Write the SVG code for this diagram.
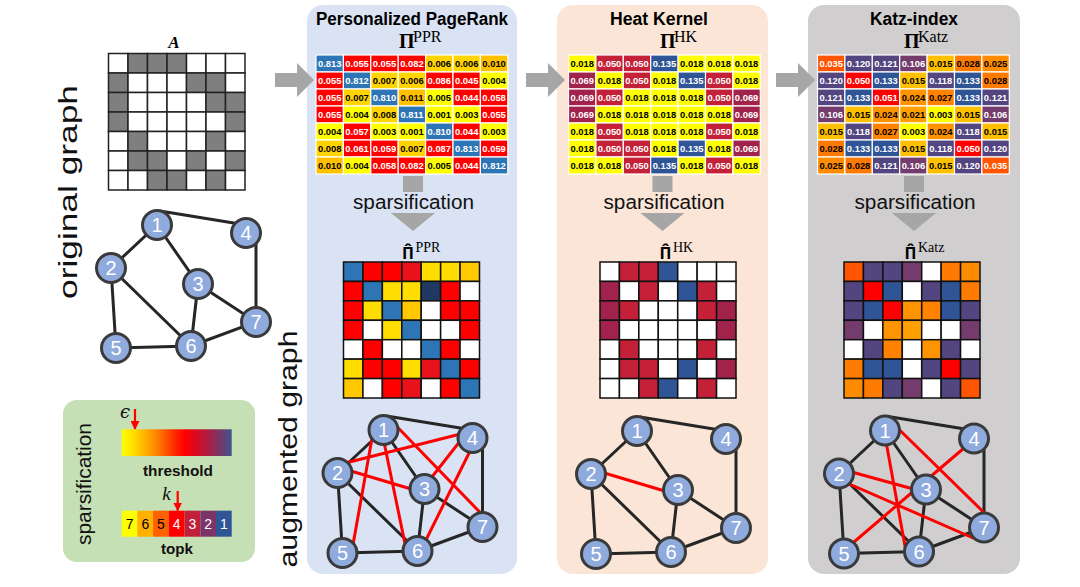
<svg xmlns="http://www.w3.org/2000/svg" xmlns:xlink="http://www.w3.org/1999/xlink" width="1080" height="587" viewBox="0 0 1080 587">
<style>
.ttl{font-family:"Liberation Sans",Arial,sans-serif;font-weight:bold;font-size:17.5px;fill:#000;text-anchor:middle}
.pi{font-family:"Liberation Serif",serif;font-weight:bold;font-size:20px;fill:#000}
.pih{font-family:"Open Sans",sans-serif;font-weight:bold;font-size:16px;fill:#000;text-anchor:middle}
.sup{font-family:"Liberation Serif",serif;font-size:16px;fill:#000}
.suph{font-family:"Liberation Serif",serif;font-size:14px;font-weight:normal;fill:#000}
.lab{font-family:"Liberation Sans",Arial,sans-serif;font-size:20px;fill:#111;text-anchor:middle}
.big{font-family:"Liberation Sans",Arial,sans-serif;font-size:26px;fill:#111;text-anchor:middle}
.n{font-family:"Liberation Sans",Arial,sans-serif;font-weight:bold;font-size:9.4px;text-anchor:middle}
.w{fill:#fff}.k{fill:#000}
.b{fill:#2E75B6}.r{fill:#FF0000}.y{fill:#FFFF00}.d{fill:#FFD400}.g{fill:#FFC000}
.hr{fill:#C42038}.hm{fill:#A1234B}.hb{fill:#2F5597}
.ko{fill:#FF5500}.kp{fill:#524580}.km{fill:#733C6C}.kb{fill:#2F5597}.kr{fill:#FF0000}
.o1{fill:#FF7A00}.o2{fill:#FF8200}.o3{fill:#FF8C00}.o4{fill:#FF9400}.o5{fill:#FFA000}
.r2{fill:#E8121C}.nv{fill:#203864}.sy{fill:#FFDD00}.sg{fill:#FFC800}.W{fill:#fff}.gr{fill:#7F7F7F}
.node circle{fill:#8FAADC;stroke:#3A3A3A;stroke-width:3}
.node text{font-family:"Liberation Sans",Arial,sans-serif;font-size:20px;fill:#fff;text-anchor:middle}
.e{stroke:#262626;stroke-width:3;fill:none}
.er{stroke:#FF0000;stroke-width:3;fill:none}
.ga{fill:#A6A6A6}
.lg{font-family:"Liberation Sans",Arial,sans-serif;font-weight:bold;font-size:15.4px;fill:#111;text-anchor:middle}
.tk{font-family:"Liberation Sans",Arial,sans-serif;font-size:14px;text-anchor:middle}
</style>
<defs>
<rect id="dc" width="27.4" height="17" stroke="#fff" stroke-width="1.2"/>
<rect id="sc" width="19.43" height="19.43" stroke="#111" stroke-width="1.5"/>
<rect id="ac" width="19.5" height="19.5" stroke="#222" stroke-width="1.5"/>
<linearGradient id="th" x1="0" y1="0" x2="1" y2="0">
<stop offset="0" stop-color="#FFFF00"/><stop offset="0.1" stop-color="#FFE000"/><stop offset="0.3" stop-color="#FF8C00"/><stop offset="0.5" stop-color="#FF2000"/><stop offset="0.58" stop-color="#FF0000"/><stop offset="0.72" stop-color="#C8102E"/><stop offset="0.86" stop-color="#8A2E5A"/><stop offset="1" stop-color="#3F5490"/>
</linearGradient>
<marker id="rh" markerUnits="userSpaceOnUse" markerWidth="9" markerHeight="9" refX="8" refY="4.5" orient="auto"><path d="M0,0 L9,4.5 L0,9 Z" fill="#FF0000"/></marker>
</defs>

<!-- panels -->
<g id="panels">
<rect id="panel-ppr" x="307" y="5" width="210" height="569" rx="16" fill="#DAE3F3"/>
<rect id="panel-hk" x="557" y="5" width="211" height="569" rx="16" fill="#FBE5D6"/>
<rect id="panel-katz" x="808" y="5" width="212" height="569" rx="16" fill="#D0CECE"/>
<rect id="panel-legend" x="63" y="400" width="192" height="162" rx="14" fill="#C5E0B4"/>
</g>

<!-- connectors -->
<g id="connectors">
<polygon class="ga" points="275,73 297,73 297,63 314,80 297,97 297,87 275,87"/>
<polygon class="ga" points="526,73 548,73 548,63 565,80 548,97 548,87 526,87"/>
<polygon class="ga" points="776,73 798,73 798,63 815,80 798,97 798,87 776,87"/>
<path class="ga" d="M403,176 H423 V192 H403 Z M391,213 H435 L413,231 Z"/>
<path class="ga" d="M652.5,176 H672.5 V192 H652.5 Z M640.5,213 H684.5 L662.5,231 Z"/>
<path class="ga" d="M904,176 H924 V192 H904 Z M892,213 H936 L914,231 Z"/>
</g>

<!-- titles -->
<text class="ttl" x="412" y="25" textLength="192" lengthAdjust="spacingAndGlyphs">Personalized PageRank</text>
<text class="ttl" x="659" y="25" textLength="98" lengthAdjust="spacingAndGlyphs">Heat Kernel</text>
<text class="ttl" x="914" y="25" textLength="88" lengthAdjust="spacingAndGlyphs">Katz-index</text>

<text class="pi" x="399" y="48">Π</text><text class="sup" x="413" y="42">PPR</text>
<text class="pi" x="660" y="48">Π</text><text class="sup" x="674" y="42">HK</text>
<text class="pi" x="904" y="48">Π</text><text class="sup" x="918" y="42">Katz</text>

<text class="pih" x="408" y="259">Π̂</text><text class="suph" x="415.5" y="252">PPR</text>
<text class="pih" x="665.5" y="259">Π̂</text><text class="suph" x="673" y="252">HK</text>
<text class="pih" x="910.5" y="259">Π̂</text><text class="suph" x="918" y="252">Katz</text>

<text class="lab" x="413.5" y="209" textLength="121" lengthAdjust="spacingAndGlyphs">sparsification</text>
<text class="lab" x="664" y="209" textLength="121" lengthAdjust="spacingAndGlyphs">sparsification</text>
<text class="lab" x="915" y="209" textLength="121" lengthAdjust="spacingAndGlyphs">sparsification</text>

<text class="big" transform="translate(77,192) rotate(-90)" textLength="214" lengthAdjust="spacingAndGlyphs">original graph</text>
<text class="big" transform="translate(297,449) rotate(-90)" textLength="237" lengthAdjust="spacingAndGlyphs">augmented graph</text>

<!-- adjacency matrix A -->
<g id="matrix-A">
<text x="174" y="47.5" font-family="Liberation Serif,serif" font-weight="bold" font-style="italic" font-size="17" text-anchor="middle">A</text>
<g transform="translate(108.5,53.5)">
<use href="#ac" x="0" y="0" class="W"/><use href="#ac" x="19.5" y="0" class="gr"/><use href="#ac" x="39" y="0" class="gr"/><use href="#ac" x="58.5" y="0" class="gr"/><use href="#ac" x="78" y="0" class="W"/><use href="#ac" x="97.5" y="0" class="W"/><use href="#ac" x="117" y="0" class="W"/>
<use href="#ac" x="0" y="19.5" class="gr"/><use href="#ac" x="19.5" y="19.5" class="W"/><use href="#ac" x="39" y="19.5" class="W"/><use href="#ac" x="58.5" y="19.5" class="W"/><use href="#ac" x="78" y="19.5" class="gr"/><use href="#ac" x="97.5" y="19.5" class="gr"/><use href="#ac" x="117" y="19.5" class="W"/>
<use href="#ac" x="0" y="39" class="gr"/><use href="#ac" x="19.5" y="39" class="W"/><use href="#ac" x="39" y="39" class="W"/><use href="#ac" x="58.5" y="39" class="W"/><use href="#ac" x="78" y="39" class="W"/><use href="#ac" x="97.5" y="39" class="gr"/><use href="#ac" x="117" y="39" class="gr"/>
<use href="#ac" x="0" y="58.5" class="gr"/><use href="#ac" x="19.5" y="58.5" class="W"/><use href="#ac" x="39" y="58.5" class="W"/><use href="#ac" x="58.5" y="58.5" class="W"/><use href="#ac" x="78" y="58.5" class="W"/><use href="#ac" x="97.5" y="58.5" class="W"/><use href="#ac" x="117" y="58.5" class="gr"/>
<use href="#ac" x="0" y="78" class="W"/><use href="#ac" x="19.5" y="78" class="gr"/><use href="#ac" x="39" y="78" class="W"/><use href="#ac" x="58.5" y="78" class="W"/><use href="#ac" x="78" y="78" class="W"/><use href="#ac" x="97.5" y="78" class="gr"/><use href="#ac" x="117" y="78" class="W"/>
<use href="#ac" x="0" y="97.5" class="W"/><use href="#ac" x="19.5" y="97.5" class="gr"/><use href="#ac" x="39" y="97.5" class="gr"/><use href="#ac" x="58.5" y="97.5" class="W"/><use href="#ac" x="78" y="97.5" class="gr"/><use href="#ac" x="97.5" y="97.5" class="W"/><use href="#ac" x="117" y="97.5" class="gr"/>
<use href="#ac" x="0" y="117" class="W"/><use href="#ac" x="19.5" y="117" class="W"/><use href="#ac" x="39" y="117" class="gr"/><use href="#ac" x="58.5" y="117" class="gr"/><use href="#ac" x="78" y="117" class="W"/><use href="#ac" x="97.5" y="117" class="gr"/><use href="#ac" x="117" y="117" class="W"/>
</g>
</g>

<!-- dense PPR -->
<g id="matrix-ppr" transform="translate(316,55)">
<use href="#dc" x="0" y="0" class="b"/><use href="#dc" x="27.4" y="0" class="r"/><use href="#dc" x="54.8" y="0" class="r"/><use href="#dc" x="82.2" y="0" class="r"/><use href="#dc" x="109.6" y="0" class="d"/><use href="#dc" x="137" y="0" class="d"/><use href="#dc" x="164.4" y="0" class="g"/>
<use href="#dc" x="0" y="17" class="r"/><use href="#dc" x="27.4" y="17" class="b"/><use href="#dc" x="54.8" y="17" class="d"/><use href="#dc" x="82.2" y="17" class="d"/><use href="#dc" x="109.6" y="17" class="r"/><use href="#dc" x="137" y="17" class="r"/><use href="#dc" x="164.4" y="17" class="y"/>
<use href="#dc" x="0" y="34" class="r"/><use href="#dc" x="27.4" y="34" class="d"/><use href="#dc" x="54.8" y="34" class="b"/><use href="#dc" x="82.2" y="34" class="g"/><use href="#dc" x="109.6" y="34" class="y"/><use href="#dc" x="137" y="34" class="r"/><use href="#dc" x="164.4" y="34" class="r"/>
<use href="#dc" x="0" y="51" class="r"/><use href="#dc" x="27.4" y="51" class="y"/><use href="#dc" x="54.8" y="51" class="d"/><use href="#dc" x="82.2" y="51" class="b"/><use href="#dc" x="109.6" y="51" class="y"/><use href="#dc" x="137" y="51" class="y"/><use href="#dc" x="164.4" y="51" class="r"/>
<use href="#dc" x="0" y="68" class="y"/><use href="#dc" x="27.4" y="68" class="r"/><use href="#dc" x="54.8" y="68" class="y"/><use href="#dc" x="82.2" y="68" class="y"/><use href="#dc" x="109.6" y="68" class="b"/><use href="#dc" x="137" y="68" class="r"/><use href="#dc" x="164.4" y="68" class="y"/>
<use href="#dc" x="0" y="85" class="d"/><use href="#dc" x="27.4" y="85" class="r"/><use href="#dc" x="54.8" y="85" class="r"/><use href="#dc" x="82.2" y="85" class="d"/><use href="#dc" x="109.6" y="85" class="r"/><use href="#dc" x="137" y="85" class="b"/><use href="#dc" x="164.4" y="85" class="r"/>
<use href="#dc" x="0" y="102" class="g"/><use href="#dc" x="27.4" y="102" class="y"/><use href="#dc" x="54.8" y="102" class="r"/><use href="#dc" x="82.2" y="102" class="r"/><use href="#dc" x="109.6" y="102" class="y"/><use href="#dc" x="137" y="102" class="r"/><use href="#dc" x="164.4" y="102" class="b"/>
<g class="n">
<text x="13.7" y="12.3" class="w">0.813</text><text x="41.1" y="12.3" class="w">0.055</text><text x="68.5" y="12.3" class="w">0.055</text><text x="95.9" y="12.3" class="w">0.082</text><text x="123.3" y="12.3" class="k">0.006</text><text x="150.7" y="12.3" class="k">0.006</text><text x="178.1" y="12.3" class="k">0.010</text>
<text x="13.7" y="29.3" class="w">0.055</text><text x="41.1" y="29.3" class="w">0.812</text><text x="68.5" y="29.3" class="k">0.007</text><text x="95.9" y="29.3" class="k">0.006</text><text x="123.3" y="29.3" class="w">0.086</text><text x="150.7" y="29.3" class="w">0.045</text><text x="178.1" y="29.3" class="k">0.004</text>
<text x="13.7" y="46.3" class="w">0.055</text><text x="41.1" y="46.3" class="k">0.007</text><text x="68.5" y="46.3" class="w">0.810</text><text x="95.9" y="46.3" class="k">0.011</text><text x="123.3" y="46.3" class="k">0.005</text><text x="150.7" y="46.3" class="w">0.044</text><text x="178.1" y="46.3" class="w">0.058</text>
<text x="13.7" y="63.3" class="w">0.055</text><text x="41.1" y="63.3" class="k">0.004</text><text x="68.5" y="63.3" class="k">0.008</text><text x="95.9" y="63.3" class="w">0.811</text><text x="123.3" y="63.3" class="k">0.001</text><text x="150.7" y="63.3" class="k">0.003</text><text x="178.1" y="63.3" class="w">0.055</text>
<text x="13.7" y="80.3" class="k">0.004</text><text x="41.1" y="80.3" class="w">0.057</text><text x="68.5" y="80.3" class="k">0.003</text><text x="95.9" y="80.3" class="k">0.001</text><text x="123.3" y="80.3" class="w">0.810</text><text x="150.7" y="80.3" class="w">0.044</text><text x="178.1" y="80.3" class="k">0.003</text>
<text x="13.7" y="97.3" class="k">0.008</text><text x="41.1" y="97.3" class="w">0.061</text><text x="68.5" y="97.3" class="w">0.059</text><text x="95.9" y="97.3" class="k">0.007</text><text x="123.3" y="97.3" class="w">0.087</text><text x="150.7" y="97.3" class="w">0.813</text><text x="178.1" y="97.3" class="w">0.059</text>
<text x="13.7" y="114.3" class="k">0.010</text><text x="41.1" y="114.3" class="k">0.004</text><text x="68.5" y="114.3" class="w">0.058</text><text x="95.9" y="114.3" class="w">0.082</text><text x="123.3" y="114.3" class="k">0.005</text><text x="150.7" y="114.3" class="w">0.044</text><text x="178.1" y="114.3" class="w">0.812</text>
</g>
</g>

<!-- dense HK -->
<g id="matrix-hk" transform="translate(568.5,55)">
<use href="#dc" x="0" y="0" class="y"/><use href="#dc" x="27.4" y="0" class="hr"/><use href="#dc" x="54.8" y="0" class="hr"/><use href="#dc" x="82.2" y="0" class="hb"/><use href="#dc" x="109.6" y="0" class="y"/><use href="#dc" x="137" y="0" class="y"/><use href="#dc" x="164.4" y="0" class="y"/>
<use href="#dc" x="0" y="17" class="hm"/><use href="#dc" x="27.4" y="17" class="y"/><use href="#dc" x="54.8" y="17" class="hr"/><use href="#dc" x="82.2" y="17" class="y"/><use href="#dc" x="109.6" y="17" class="hb"/><use href="#dc" x="137" y="17" class="hr"/><use href="#dc" x="164.4" y="17" class="y"/>
<use href="#dc" x="0" y="34" class="hm"/><use href="#dc" x="27.4" y="34" class="hr"/><use href="#dc" x="54.8" y="34" class="y"/><use href="#dc" x="82.2" y="34" class="y"/><use href="#dc" x="109.6" y="34" class="y"/><use href="#dc" x="137" y="34" class="hr"/><use href="#dc" x="164.4" y="34" class="hm"/>
<use href="#dc" x="0" y="51" class="hm"/><use href="#dc" x="27.4" y="51" class="y"/><use href="#dc" x="54.8" y="51" class="y"/><use href="#dc" x="82.2" y="51" class="y"/><use href="#dc" x="109.6" y="51" class="y"/><use href="#dc" x="137" y="51" class="y"/><use href="#dc" x="164.4" y="51" class="hm"/>
<use href="#dc" x="0" y="68" class="y"/><use href="#dc" x="27.4" y="68" class="hr"/><use href="#dc" x="54.8" y="68" class="y"/><use href="#dc" x="82.2" y="68" class="y"/><use href="#dc" x="109.6" y="68" class="y"/><use href="#dc" x="137" y="68" class="hr"/><use href="#dc" x="164.4" y="68" class="y"/>
<use href="#dc" x="0" y="85" class="y"/><use href="#dc" x="27.4" y="85" class="hr"/><use href="#dc" x="54.8" y="85" class="hr"/><use href="#dc" x="82.2" y="85" class="y"/><use href="#dc" x="109.6" y="85" class="hb"/><use href="#dc" x="137" y="85" class="y"/><use href="#dc" x="164.4" y="85" class="hm"/>
<use href="#dc" x="0" y="102" class="y"/><use href="#dc" x="27.4" y="102" class="y"/><use href="#dc" x="54.8" y="102" class="hr"/><use href="#dc" x="82.2" y="102" class="hb"/><use href="#dc" x="109.6" y="102" class="y"/><use href="#dc" x="137" y="102" class="hr"/><use href="#dc" x="164.4" y="102" class="y"/>
<g class="n">
<text x="13.7" y="12.3" class="k">0.018</text><text x="41.1" y="12.3" class="w">0.050</text><text x="68.5" y="12.3" class="w">0.050</text><text x="95.9" y="12.3" class="w">0.135</text><text x="123.3" y="12.3" class="k">0.018</text><text x="150.7" y="12.3" class="k">0.018</text><text x="178.1" y="12.3" class="k">0.018</text>
<text x="13.7" y="29.3" class="w">0.069</text><text x="41.1" y="29.3" class="k">0.018</text><text x="68.5" y="29.3" class="w">0.050</text><text x="95.9" y="29.3" class="k">0.018</text><text x="123.3" y="29.3" class="w">0.135</text><text x="150.7" y="29.3" class="w">0.050</text><text x="178.1" y="29.3" class="k">0.018</text>
<text x="13.7" y="46.3" class="w">0.069</text><text x="41.1" y="46.3" class="w">0.050</text><text x="68.5" y="46.3" class="k">0.018</text><text x="95.9" y="46.3" class="k">0.018</text><text x="123.3" y="46.3" class="k">0.018</text><text x="150.7" y="46.3" class="w">0.050</text><text x="178.1" y="46.3" class="w">0.069</text>
<text x="13.7" y="63.3" class="w">0.069</text><text x="41.1" y="63.3" class="k">0.018</text><text x="68.5" y="63.3" class="k">0.018</text><text x="95.9" y="63.3" class="k">0.018</text><text x="123.3" y="63.3" class="k">0.018</text><text x="150.7" y="63.3" class="k">0.018</text><text x="178.1" y="63.3" class="w">0.069</text>
<text x="13.7" y="80.3" class="k">0.018</text><text x="41.1" y="80.3" class="w">0.050</text><text x="68.5" y="80.3" class="k">0.018</text><text x="95.9" y="80.3" class="k">0.018</text><text x="123.3" y="80.3" class="k">0.018</text><text x="150.7" y="80.3" class="w">0.050</text><text x="178.1" y="80.3" class="k">0.018</text>
<text x="13.7" y="97.3" class="k">0.018</text><text x="41.1" y="97.3" class="w">0.050</text><text x="68.5" y="97.3" class="w">0.050</text><text x="95.9" y="97.3" class="k">0.018</text><text x="123.3" y="97.3" class="w">0.135</text><text x="150.7" y="97.3" class="k">0.018</text><text x="178.1" y="97.3" class="w">0.069</text>
<text x="13.7" y="114.3" class="k">0.018</text><text x="41.1" y="114.3" class="k">0.018</text><text x="68.5" y="114.3" class="w">0.050</text><text x="95.9" y="114.3" class="w">0.135</text><text x="123.3" y="114.3" class="k">0.018</text><text x="150.7" y="114.3" class="w">0.050</text><text x="178.1" y="114.3" class="k">0.018</text>
</g>
</g>

<!-- dense Katz -->
<g id="matrix-katz" transform="translate(817.5,55)">
<use href="#dc" x="0" y="0" class="ko"/><use href="#dc" x="27.4" y="0" class="kp"/><use href="#dc" x="54.8" y="0" class="kp"/><use href="#dc" x="82.2" y="0" class="km"/><use href="#dc" x="109.6" y="0" class="g"/><use href="#dc" x="137" y="0" class="o1"/><use href="#dc" x="164.4" y="0" class="o3"/>
<use href="#dc" x="0" y="17" class="kp"/><use href="#dc" x="27.4" y="17" class="kr"/><use href="#dc" x="54.8" y="17" class="kb"/><use href="#dc" x="82.2" y="17" class="g"/><use href="#dc" x="109.6" y="17" class="kp"/><use href="#dc" x="137" y="17" class="kb"/><use href="#dc" x="164.4" y="17" class="o1"/>
<use href="#dc" x="0" y="34" class="kp"/><use href="#dc" x="27.4" y="34" class="kb"/><use href="#dc" x="54.8" y="34" class="kr"/><use href="#dc" x="82.2" y="34" class="o4"/><use href="#dc" x="109.6" y="34" class="o2"/><use href="#dc" x="137" y="34" class="kb"/><use href="#dc" x="164.4" y="34" class="kp"/>
<use href="#dc" x="0" y="51" class="km"/><use href="#dc" x="27.4" y="51" class="g"/><use href="#dc" x="54.8" y="51" class="o4"/><use href="#dc" x="82.2" y="51" class="o5"/><use href="#dc" x="109.6" y="51" class="y"/><use href="#dc" x="137" y="51" class="g"/><use href="#dc" x="164.4" y="51" class="km"/>
<use href="#dc" x="0" y="68" class="g"/><use href="#dc" x="27.4" y="68" class="kp"/><use href="#dc" x="54.8" y="68" class="o2"/><use href="#dc" x="82.2" y="68" class="y"/><use href="#dc" x="109.6" y="68" class="o4"/><use href="#dc" x="137" y="68" class="kp"/><use href="#dc" x="164.4" y="68" class="g"/>
<use href="#dc" x="0" y="85" class="o1"/><use href="#dc" x="27.4" y="85" class="kb"/><use href="#dc" x="54.8" y="85" class="kb"/><use href="#dc" x="82.2" y="85" class="g"/><use href="#dc" x="109.6" y="85" class="kp"/><use href="#dc" x="137" y="85" class="kr"/><use href="#dc" x="164.4" y="85" class="kp"/>
<use href="#dc" x="0" y="102" class="o3"/><use href="#dc" x="27.4" y="102" class="o1"/><use href="#dc" x="54.8" y="102" class="kp"/><use href="#dc" x="82.2" y="102" class="km"/><use href="#dc" x="109.6" y="102" class="g"/><use href="#dc" x="137" y="102" class="kp"/><use href="#dc" x="164.4" y="102" class="ko"/>
<g class="n">
<text x="13.7" y="12.3" class="w">0.035</text><text x="41.1" y="12.3" class="w">0.120</text><text x="68.5" y="12.3" class="w">0.121</text><text x="95.9" y="12.3" class="w">0.106</text><text x="123.3" y="12.3" class="k">0.015</text><text x="150.7" y="12.3" class="k">0.028</text><text x="178.1" y="12.3" class="k">0.025</text>
<text x="13.7" y="29.3" class="w">0.120</text><text x="41.1" y="29.3" class="w">0.050</text><text x="68.5" y="29.3" class="w">0.133</text><text x="95.9" y="29.3" class="k">0.015</text><text x="123.3" y="29.3" class="w">0.118</text><text x="150.7" y="29.3" class="w">0.133</text><text x="178.1" y="29.3" class="k">0.028</text>
<text x="13.7" y="46.3" class="w">0.121</text><text x="41.1" y="46.3" class="w">0.133</text><text x="68.5" y="46.3" class="w">0.051</text><text x="95.9" y="46.3" class="k">0.024</text><text x="123.3" y="46.3" class="k">0.027</text><text x="150.7" y="46.3" class="w">0.133</text><text x="178.1" y="46.3" class="w">0.121</text>
<text x="13.7" y="63.3" class="w">0.106</text><text x="41.1" y="63.3" class="k">0.015</text><text x="68.5" y="63.3" class="k">0.024</text><text x="95.9" y="63.3" class="k">0.021</text><text x="123.3" y="63.3" class="k">0.003</text><text x="150.7" y="63.3" class="k">0.015</text><text x="178.1" y="63.3" class="w">0.106</text>
<text x="13.7" y="80.3" class="k">0.015</text><text x="41.1" y="80.3" class="w">0.118</text><text x="68.5" y="80.3" class="k">0.027</text><text x="95.9" y="80.3" class="k">0.003</text><text x="123.3" y="80.3" class="k">0.024</text><text x="150.7" y="80.3" class="w">0.118</text><text x="178.1" y="80.3" class="k">0.015</text>
<text x="13.7" y="97.3" class="k">0.028</text><text x="41.1" y="97.3" class="w">0.133</text><text x="68.5" y="97.3" class="w">0.133</text><text x="95.9" y="97.3" class="k">0.015</text><text x="123.3" y="97.3" class="w">0.118</text><text x="150.7" y="97.3" class="w">0.050</text><text x="178.1" y="97.3" class="w">0.120</text>
<text x="13.7" y="114.3" class="k">0.025</text><text x="41.1" y="114.3" class="k">0.028</text><text x="68.5" y="114.3" class="w">0.121</text><text x="95.9" y="114.3" class="w">0.106</text><text x="123.3" y="114.3" class="k">0.015</text><text x="150.7" y="114.3" class="w">0.120</text><text x="178.1" y="114.3" class="w">0.035</text>
</g>
</g>

<!-- sparse PPR -->
<g id="sparse-ppr" transform="translate(343.5,262)">
<use href="#sc" x="0" y="0" class="b"/><use href="#sc" x="19.43" y="0" class="r"/><use href="#sc" x="38.86" y="0" class="r"/><use href="#sc" x="58.29" y="0" class="r2"/><use href="#sc" x="77.71" y="0" class="sy"/><use href="#sc" x="97.14" y="0" class="sy"/><use href="#sc" x="116.57" y="0" class="sg"/>
<use href="#sc" x="0" y="19.43" class="r"/><use href="#sc" x="19.43" y="19.43" class="b"/><use href="#sc" x="38.86" y="19.43" class="sy"/><use href="#sc" x="58.29" y="19.43" class="sy"/><use href="#sc" x="77.71" y="19.43" class="nv"/><use href="#sc" x="97.14" y="19.43" class="r"/><use href="#sc" x="116.57" y="19.43" class="W"/>
<use href="#sc" x="0" y="38.86" class="r"/><use href="#sc" x="19.43" y="38.86" class="sy"/><use href="#sc" x="38.86" y="38.86" class="b"/><use href="#sc" x="58.29" y="38.86" class="sg"/><use href="#sc" x="77.71" y="38.86" class="W"/><use href="#sc" x="97.14" y="38.86" class="r"/><use href="#sc" x="116.57" y="38.86" class="r"/>
<use href="#sc" x="0" y="58.29" class="r"/><use href="#sc" x="19.43" y="58.29" class="W"/><use href="#sc" x="38.86" y="58.29" class="sy"/><use href="#sc" x="58.29" y="58.29" class="b"/><use href="#sc" x="77.71" y="58.29" class="W"/><use href="#sc" x="97.14" y="58.29" class="W"/><use href="#sc" x="116.57" y="58.29" class="r"/>
<use href="#sc" x="0" y="77.71" class="W"/><use href="#sc" x="19.43" y="77.71" class="r"/><use href="#sc" x="38.86" y="77.71" class="W"/><use href="#sc" x="58.29" y="77.71" class="W"/><use href="#sc" x="77.71" y="77.71" class="b"/><use href="#sc" x="97.14" y="77.71" class="r"/><use href="#sc" x="116.57" y="77.71" class="W"/>
<use href="#sc" x="0" y="97.14" class="sy"/><use href="#sc" x="19.43" y="97.14" class="r"/><use href="#sc" x="38.86" y="97.14" class="r"/><use href="#sc" x="58.29" y="97.14" class="sy"/><use href="#sc" x="77.71" y="97.14" class="r2"/><use href="#sc" x="97.14" y="97.14" class="b"/><use href="#sc" x="116.57" y="97.14" class="r"/>
<use href="#sc" x="0" y="116.57" class="sg"/><use href="#sc" x="19.43" y="116.57" class="W"/><use href="#sc" x="38.86" y="116.57" class="r"/><use href="#sc" x="58.29" y="116.57" class="r2"/><use href="#sc" x="77.71" y="116.57" class="W"/><use href="#sc" x="97.14" y="116.57" class="r"/><use href="#sc" x="116.57" y="116.57" class="b"/>
</g>

<!-- sparse HK -->
<g id="sparse-hk" transform="translate(600,262)">
<use href="#sc" x="0" y="0" class="W"/><use href="#sc" x="19.43" y="0" class="hr"/><use href="#sc" x="38.86" y="0" class="hr"/><use href="#sc" x="58.29" y="0" class="hb"/><use href="#sc" x="77.71" y="0" class="W"/><use href="#sc" x="97.14" y="0" class="W"/><use href="#sc" x="116.57" y="0" class="W"/>
<use href="#sc" x="0" y="19.43" class="hm"/><use href="#sc" x="19.43" y="19.43" class="W"/><use href="#sc" x="38.86" y="19.43" class="hr"/><use href="#sc" x="58.29" y="19.43" class="W"/><use href="#sc" x="77.71" y="19.43" class="hb"/><use href="#sc" x="97.14" y="19.43" class="hr"/><use href="#sc" x="116.57" y="19.43" class="W"/>
<use href="#sc" x="0" y="38.86" class="hm"/><use href="#sc" x="19.43" y="38.86" class="hr"/><use href="#sc" x="38.86" y="38.86" class="W"/><use href="#sc" x="58.29" y="38.86" class="W"/><use href="#sc" x="77.71" y="38.86" class="W"/><use href="#sc" x="97.14" y="38.86" class="hr"/><use href="#sc" x="116.57" y="38.86" class="hm"/>
<use href="#sc" x="0" y="58.29" class="hm"/><use href="#sc" x="19.43" y="58.29" class="W"/><use href="#sc" x="38.86" y="58.29" class="W"/><use href="#sc" x="58.29" y="58.29" class="W"/><use href="#sc" x="77.71" y="58.29" class="W"/><use href="#sc" x="97.14" y="58.29" class="W"/><use href="#sc" x="116.57" y="58.29" class="hm"/>
<use href="#sc" x="0" y="77.71" class="W"/><use href="#sc" x="19.43" y="77.71" class="hr"/><use href="#sc" x="38.86" y="77.71" class="W"/><use href="#sc" x="58.29" y="77.71" class="W"/><use href="#sc" x="77.71" y="77.71" class="W"/><use href="#sc" x="97.14" y="77.71" class="hr"/><use href="#sc" x="116.57" y="77.71" class="W"/>
<use href="#sc" x="0" y="97.14" class="W"/><use href="#sc" x="19.43" y="97.14" class="hr"/><use href="#sc" x="38.86" y="97.14" class="hr"/><use href="#sc" x="58.29" y="97.14" class="W"/><use href="#sc" x="77.71" y="97.14" class="hb"/><use href="#sc" x="97.14" y="97.14" class="W"/><use href="#sc" x="116.57" y="97.14" class="hm"/>
<use href="#sc" x="0" y="116.57" class="W"/><use href="#sc" x="19.43" y="116.57" class="W"/><use href="#sc" x="38.86" y="116.57" class="hr"/><use href="#sc" x="58.29" y="116.57" class="hb"/><use href="#sc" x="77.71" y="116.57" class="W"/><use href="#sc" x="97.14" y="116.57" class="hr"/><use href="#sc" x="116.57" y="116.57" class="W"/>
</g>

<!-- sparse Katz -->
<g id="sparse-katz" transform="translate(844,262)">
<use href="#sc" x="0" y="0" class="ko"/><use href="#sc" x="19.43" y="0" class="kp"/><use href="#sc" x="38.86" y="0" class="kp"/><use href="#sc" x="58.29" y="0" class="km"/><use href="#sc" x="77.71" y="0" class="W"/><use href="#sc" x="97.14" y="0" class="o1"/><use href="#sc" x="116.57" y="0" class="o3"/>
<use href="#sc" x="0" y="19.43" class="kp"/><use href="#sc" x="19.43" y="19.43" class="kr"/><use href="#sc" x="38.86" y="19.43" class="kb"/><use href="#sc" x="58.29" y="19.43" class="W"/><use href="#sc" x="77.71" y="19.43" class="kp"/><use href="#sc" x="97.14" y="19.43" class="kb"/><use href="#sc" x="116.57" y="19.43" class="o1"/>
<use href="#sc" x="0" y="38.86" class="kp"/><use href="#sc" x="19.43" y="38.86" class="kb"/><use href="#sc" x="38.86" y="38.86" class="kr"/><use href="#sc" x="58.29" y="38.86" class="o4"/><use href="#sc" x="77.71" y="38.86" class="o2"/><use href="#sc" x="97.14" y="38.86" class="kb"/><use href="#sc" x="116.57" y="38.86" class="kp"/>
<use href="#sc" x="0" y="58.29" class="km"/><use href="#sc" x="19.43" y="58.29" class="W"/><use href="#sc" x="38.86" y="58.29" class="o4"/><use href="#sc" x="58.29" y="58.29" class="o5"/><use href="#sc" x="77.71" y="58.29" class="W"/><use href="#sc" x="97.14" y="58.29" class="W"/><use href="#sc" x="116.57" y="58.29" class="km"/>
<use href="#sc" x="0" y="77.71" class="W"/><use href="#sc" x="19.43" y="77.71" class="kp"/><use href="#sc" x="38.86" y="77.71" class="o2"/><use href="#sc" x="58.29" y="77.71" class="W"/><use href="#sc" x="77.71" y="77.71" class="o4"/><use href="#sc" x="97.14" y="77.71" class="kp"/><use href="#sc" x="116.57" y="77.71" class="W"/>
<use href="#sc" x="0" y="97.14" class="o1"/><use href="#sc" x="19.43" y="97.14" class="kb"/><use href="#sc" x="38.86" y="97.14" class="kb"/><use href="#sc" x="58.29" y="97.14" class="W"/><use href="#sc" x="77.71" y="97.14" class="kp"/><use href="#sc" x="97.14" y="97.14" class="kr"/><use href="#sc" x="116.57" y="97.14" class="kp"/>
<use href="#sc" x="0" y="116.57" class="o3"/><use href="#sc" x="19.43" y="116.57" class="o1"/><use href="#sc" x="38.86" y="116.57" class="kp"/><use href="#sc" x="58.29" y="116.57" class="km"/><use href="#sc" x="77.71" y="116.57" class="W"/><use href="#sc" x="97.14" y="116.57" class="kp"/><use href="#sc" x="116.57" y="116.57" class="ko"/>
</g>

<!-- original graph -->
<g id="graph-original">
<g id="og-edges">
<path class="e" d="M157,225 L111,268 M157,225 L198,284 M160,211 L246,225 M111,268 L116,348 M111,268 L191,346 M198,284 L191,346 M198,284 L256,322 M256,238 L256,322 M116,348 L191,346 M191,346 L256,322"/>
</g>
<g id="og-n1" class="node"><circle cx="157" cy="225" r="14.5"/><text x="157" y="232">1</text></g>
<g id="og-n2" class="node"><circle cx="111" cy="268" r="14.5"/><text x="111" y="275">2</text></g>
<g id="og-n3" class="node"><circle cx="198" cy="284" r="14.5"/><text x="198" y="291">3</text></g>
<g id="og-n4" class="node"><circle cx="246" cy="233" r="14.5"/><text x="246" y="240">4</text></g>
<g id="og-n5" class="node"><circle cx="116" cy="348" r="14.5"/><text x="116" y="355">5</text></g>
<g id="og-n6" class="node"><circle cx="191" cy="346" r="14.5"/><text x="191" y="353">6</text></g>
<g id="og-n7" class="node"><circle cx="256" cy="322" r="14.5"/><text x="256" y="329">7</text></g>
</g>

<!-- PPR augmented graph -->
<g id="graph-ppr" transform="translate(226.5,205)">
<g id="pg-edges">
<path class="e" d="M157,225 L111,268 M157,225 L198,284 M160,211 L246,225 M111,268 L116,348 M111,268 L191,346 M198,284 L191,346 M198,284 L256,322 M256,238 L256,322 M116,348 L191,346 M191,346 L256,322"/>
<path class="er" d="M147,225 L125,348 M155,225 L180,346 M165,216 L258,312 M111,260 L246,226 M111,262 L198,288 M236,233 L196,284 M250,233 L194,346"/>
</g>
<g id="pg-n1" class="node"><circle cx="157" cy="225" r="14.5"/><text x="157" y="232">1</text></g>
<g id="pg-n2" class="node"><circle cx="111" cy="268" r="14.5"/><text x="111" y="275">2</text></g>
<g id="pg-n3" class="node"><circle cx="198" cy="284" r="14.5"/><text x="198" y="291">3</text></g>
<g id="pg-n4" class="node"><circle cx="246" cy="233" r="14.5"/><text x="246" y="240">4</text></g>
<g id="pg-n5" class="node"><circle cx="116" cy="348" r="14.5"/><text x="116" y="355">5</text></g>
<g id="pg-n6" class="node"><circle cx="191" cy="346" r="14.5"/><text x="191" y="353">6</text></g>
<g id="pg-n7" class="node"><circle cx="256" cy="322" r="14.5"/><text x="256" y="329">7</text></g>
</g>

<!-- HK augmented graph -->
<g id="graph-hk" transform="translate(480,206)">
<g id="hg-edges">
<path class="e" d="M157,225 L111,268 M157,225 L198,284 M160,211 L246,225 M111,268 L116,348 M111,268 L191,346 M198,284 L191,346 M198,284 L256,322 M256,238 L256,322 M116,348 L191,346 M191,346 L256,322"/>
<path class="er" d="M111,263 L198,289"/>
</g>
<g id="hg-n1" class="node"><circle cx="157" cy="225" r="14.5"/><text x="157" y="232">1</text></g>
<g id="hg-n2" class="node"><circle cx="111" cy="268" r="14.5"/><text x="111" y="275">2</text></g>
<g id="hg-n3" class="node"><circle cx="198" cy="284" r="14.5"/><text x="198" y="291">3</text></g>
<g id="hg-n4" class="node"><circle cx="246" cy="233" r="14.5"/><text x="246" y="240">4</text></g>
<g id="hg-n5" class="node"><circle cx="116" cy="348" r="14.5"/><text x="116" y="355">5</text></g>
<g id="hg-n6" class="node"><circle cx="191" cy="346" r="14.5"/><text x="191" y="353">6</text></g>
<g id="hg-n7" class="node"><circle cx="256" cy="322" r="14.5"/><text x="256" y="329">7</text></g>
</g>

<!-- Katz augmented graph -->
<g id="graph-katz" transform="translate(728,205.5)">
<g id="kg-edges">
<path class="e" d="M157,225 L111,268 M157,225 L198,284 M160,211 L246,225 M111,268 L116,348 M111,268 L191,346 M198,284 L191,346 M198,284 L256,322 M256,238 L256,322 M116,348 L191,346 M191,346 L256,322"/>
<path class="er" d="M156,225 L178,346 M165,218 L259,310 M111,263 L198,287 M111,274 L252,335.5 M246,234 L198,275 M198,275 L116,345"/>
</g>
<g id="kg-n1" class="node"><circle cx="157" cy="225" r="14.5"/><text x="157" y="232">1</text></g>
<g id="kg-n2" class="node"><circle cx="111" cy="268" r="14.5"/><text x="111" y="275">2</text></g>
<g id="kg-n3" class="node"><circle cx="198" cy="284" r="14.5"/><text x="198" y="291">3</text></g>
<g id="kg-n4" class="node"><circle cx="246" cy="233" r="14.5"/><text x="246" y="240">4</text></g>
<g id="kg-n5" class="node"><circle cx="116" cy="348" r="14.5"/><text x="116" y="355">5</text></g>
<g id="kg-n6" class="node"><circle cx="191" cy="346" r="14.5"/><text x="191" y="353">6</text></g>
<g id="kg-n7" class="node"><circle cx="256" cy="322" r="14.5"/><text x="256" y="329">7</text></g>
</g>

<!-- legend -->
<g id="legend">
<text class="lab" transform="translate(91,484) rotate(-90)" textLength="122" lengthAdjust="spacingAndGlyphs">sparsification</text>
<text x="125" y="418" font-family="DejaVu Serif,serif" font-style="italic" font-size="18" text-anchor="middle" fill="#111">ϵ</text>
<line x1="135" y1="409" x2="135" y2="429" stroke="#FF0000" stroke-width="2.2" marker-end="url(#rh)"/>
<rect x="121.7" y="429.3" width="110" height="26.7" fill="url(#th)"/>
<text class="lg" x="178" y="476" textLength="70" lengthAdjust="spacingAndGlyphs">threshold</text>
<text x="166.5" y="500" font-family="Liberation Serif,serif" font-style="italic" font-size="19" text-anchor="middle" fill="#111">k</text>
<line x1="177.7" y1="491" x2="177.7" y2="510.5" stroke="#FF0000" stroke-width="2.2" marker-end="url(#rh)"/>
<rect x="121.7" y="510.7" width="15.71" height="26" fill="#FFFF00"/>
<rect x="137.4" y="510.7" width="15.71" height="26" fill="#FFB000"/>
<rect x="153.1" y="510.7" width="15.71" height="26" fill="#FF6000"/>
<rect x="168.8" y="510.7" width="15.71" height="26" fill="#FF0000"/>
<rect x="184.5" y="510.7" width="15.71" height="26" fill="#C0203A"/>
<rect x="200.3" y="510.7" width="15.71" height="26" fill="#7A3468"/>
<rect x="216" y="510.7" width="15.71" height="26" fill="#2F5597"/>
<text class="tk" x="129.6" y="528.5" fill="#000">7</text>
<text class="tk" x="145.3" y="528.5" fill="#000">6</text>
<text class="tk" x="161" y="528.5" fill="#000">5</text>
<text class="tk" x="176.7" y="528.5" fill="#fff">4</text>
<text class="tk" x="192.4" y="528.5" fill="#fff">3</text>
<text class="tk" x="208.1" y="528.5" fill="#fff">2</text>
<text class="tk" x="223.8" y="528.5" fill="#fff">1</text>
<text class="lg" x="177" y="554" textLength="32" lengthAdjust="spacingAndGlyphs">topk</text>
</g>
</svg>
